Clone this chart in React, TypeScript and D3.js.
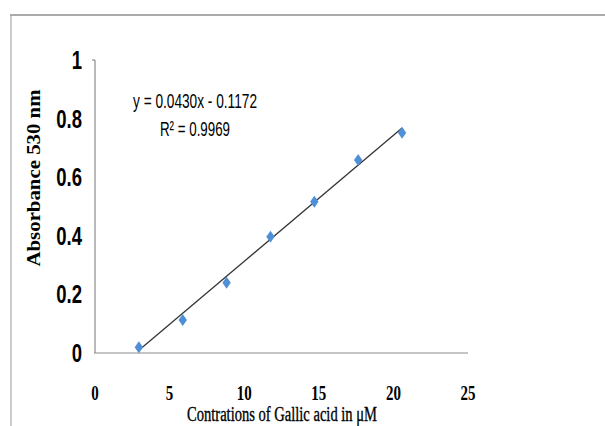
import React from "react";
import * as d3 from "d3";

// gallic acid calibration points
const concentrations = [2.94, 5.88, 8.82, 11.76, 14.7, 17.64, 20.58];
const absorbances = [0.02, 0.113, 0.24, 0.397, 0.516, 0.659, 0.752];
const xTicks = [0, 5, 10, 15, 20, 25];
const yTicks = [0, 0.2, 0.4, 0.6, 0.8, 1];
const slope = 0.043;
const intercept = -0.1172;
const rSquared = 0.9969;

const narrow = "'Liberation Sans Narrow', 'Liberation Sans', sans-serif";
const serif = "'Liberation Serif', 'Times New Roman', serif";

export default function App() {
  const ref = React.useRef<SVGSVGElement>(null);

  React.useEffect(() => {
    const svg = d3.select(ref.current);
    svg.selectAll("*").remove();

    const x = d3.scaleLinear().domain([0, 25]).range([95, 468]);
    const y = d3.scaleLinear().domain([0, 1]).range([353, 60]);

    // outer frame (top and left edges)
    svg.append("line").attr("x1", 10).attr("x2", 605).attr("y1", 15).attr("y2", 15)
      .attr("stroke", "#aaaaaa").attr("stroke-width", 2);
    svg.append("line").attr("x1", 11).attr("x2", 11).attr("y1", 14).attr("y2", 426)
      .attr("stroke", "#aaaaaa").attr("stroke-width", 1.2);

    // axes
    svg.append("line").attr("x1", x(0)).attr("x2", x(0)).attr("y1", y(1)).attr("y2", y(0))
      .attr("stroke", "#8c8c8c").attr("stroke-width", 1.2);
    svg.append("line").attr("x1", x(0) - 3).attr("x2", x(0)).attr("y1", y(1)).attr("y2", y(1))
      .attr("stroke", "#8c8c8c").attr("stroke-width", 1.2);
    svg.append("line").attr("x1", x(0) - 1).attr("x2", x(25)).attr("y1", y(0)).attr("y2", y(0))
      .attr("stroke", "#8c8c8c").attr("stroke-width", 1.2);

    svg.append("g").selectAll("text").data(yTicks).join("text")
      .attr("x", 82).attr("y", (d) => y(d))
      .attr("dy", "0.36em")
      .attr("text-anchor", "end")
      .attr("font-family", narrow).attr("font-weight", "bold").attr("font-size", 25)
      .attr("transform", "translate(82,0) scale(0.74,1) translate(-82,0)")
      .text((d) => (d === 0 || d === 1 ? String(d) : d.toFixed(1)));

    svg.append("g").selectAll("text").data(xTicks).join("text")
      .attr("x", (d) => x(d)).attr("y", 392)
      .attr("dy", "0.36em")
      .attr("text-anchor", "middle")
      .attr("font-family", serif).attr("font-weight", "bold").attr("font-size", 22)
      .attr("transform", (d) => `translate(${x(d)},0) scale(0.68,1) translate(${-x(d)},0)`)
      .text((d) => d);

    // axis titles
    svg.append("text")
      .attr("x", 282).attr("y", 421)
      .attr("text-anchor", "middle")
      .attr("font-family", serif).attr("font-size", 20)
      .attr("stroke", "#000").attr("stroke-width", 0.35)
      .attr("textLength", 190).attr("lengthAdjust", "spacingAndGlyphs")
      .text("Contrations of Gallic acid in \u03bcM");

    svg.append("text")
      .attr("transform", "translate(40,178) rotate(-90)")
      .attr("text-anchor", "middle")
      .attr("font-family", serif).attr("font-weight", "bold").attr("font-size", 19)
      .attr("textLength", 177).attr("lengthAdjust", "spacingAndGlyphs")
      .text("Absorbance 530 nm");

    // linear trendline
    const xs = d3.extent(concentrations) as [number, number];
    svg.append("line")
      .attr("x1", x(xs[0])).attr("y1", y(slope * xs[0] + intercept))
      .attr("x2", x(xs[1])).attr("y2", y(slope * xs[1] + intercept))
      .attr("stroke", "#333333").attr("stroke-width", 1.3);

    // diamond markers
    const pts = concentrations.map((c, i) => [c, absorbances[i]]);
    svg.append("g").selectAll("path").data(pts).join("path")
      .attr("d", "M0,-6L4.2,0L0,6L-4.2,0Z")
      .attr("transform", (d) => `translate(${x(d[0])},${y(d[1])})`)
      .attr("fill", "#4f8fd6");

    // equation label
    svg.append("text")
      .attr("x", 133).attr("y", 108)
      .attr("font-family", narrow).attr("font-size", 21)
      .attr("textLength", 124).attr("lengthAdjust", "spacingAndGlyphs")
      .text(`y = ${slope.toFixed(4)}x - ${Math.abs(intercept).toFixed(4)}`);
    svg.append("text")
      .attr("x", 160).attr("y", 136)
      .attr("font-family", narrow).attr("font-size", 21)
      .attr("textLength", 70).attr("lengthAdjust", "spacingAndGlyphs")
      .text(`R\u00b2 = ${rSquared.toFixed(4)}`);
  }, []);

  return (
    <svg
      ref={ref}
      width={605}
      height={426}
      style={{ position: "absolute", left: 0, top: 0, background: "#ffffff" }}
    />
  );
}
